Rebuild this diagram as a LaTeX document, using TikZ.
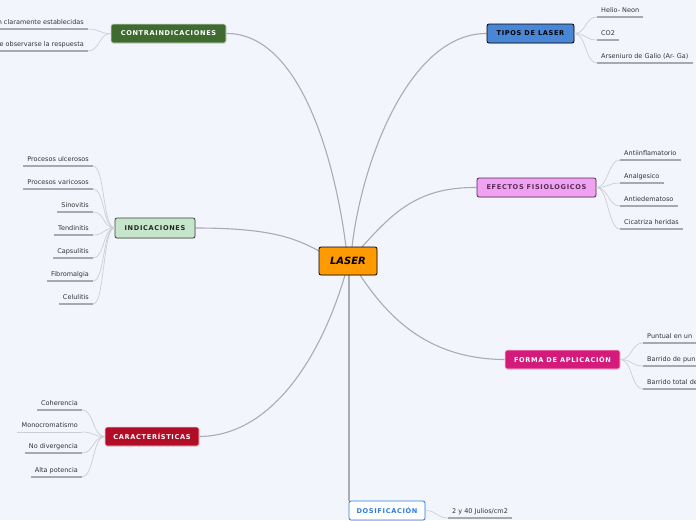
\documentclass[tikz,border=0pt]{standalone}
\usepackage{fontspec}
\setmainfont{DejaVu Sans}
\newfontfamily\spacedbold[LetterSpace=10]{DejaVu Sans}
\usetikzlibrary{shadows}
\pgfdeclarelayer{bg}
\pgfsetlayers{bg,main}
\definecolor{bgc}{HTML}{F3F5FD}
\definecolor{linec}{HTML}{ABABB3}
\definecolor{leafline}{HTML}{CDCDD3}
\definecolor{ulc}{HTML}{A9A9AD}
\definecolor{cgreen}{HTML}{3F6B30}
\definecolor{cblue}{HTML}{4A86D6}
\definecolor{cpink}{HTML}{EEA2F0}
\definecolor{cpinkb}{HTML}{5A2A5A}
\definecolor{cmint}{HTML}{C6E6CB}
\definecolor{cred}{HTML}{B20D26}
\definecolor{cmag}{HTML}{D41B7B}
\definecolor{cdblue}{HTML}{2A7EE0}
\definecolor{corange}{HTML}{FF9A00}
\tikzset{
  mainbox/.style={rounded corners=2pt, minimum height=19pt, inner sep=0pt,
    font=\spacedbold\fontsize{6.6}{7}\selectfont\bfseries, line width=0.8pt,
    drop shadow={opacity=0.18, shadow xshift=0.6pt, shadow yshift=-0.8pt}},
  leaf/.style={font=\fontsize{6.5}{7.5}\selectfont, text=black!80, inner xsep=4pt,
    inner ysep=3.2pt, text height=4.9pt, text depth=1.4pt},
  uline/.style={line width=2.1pt, ulc},
  conn/.style={line width=1.1pt, linec},
  lconn/.style={line width=0.7pt, leafline},
}
\begin{document}
\begin{tikzpicture}[x=1pt,y=-1pt]
\clip (0,0) rectangle (696,520);
\begin{pgfonlayer}{bg}
\fill[bgc] (0,0) rectangle (696,520);
\end{pgfonlayer}

% nodes
\node[mainbox, draw=black, fill=corange, minimum width=58pt, minimum height=28pt,
  font=\fontsize{10}{11}\selectfont\bfseries\itshape] (laser) at (348,261) {LASER};
\node[mainbox, draw=white!80!cgreen, fill=cgreen, text=white, minimum width=115pt] (contra) at (168.5,33.5) {CONTRAINDICACIONES};
\node[mainbox, draw=black, fill=cblue, text=black, minimum width=87pt] (tipos) at (530.5,33.5) {TIPOS DE LASER};
\node[mainbox, draw=cpinkb, fill=cpink, text=cpinkb, minimum width=119pt] (efectos) at (536.5,187.5) {EFECTOS FISIOLOGICOS};
\node[mainbox, draw=black!75, fill=cmint, text=black!85, minimum width=80pt, minimum height=20pt] (indic) at (155,228) {INDICACIONES};
\node[mainbox, draw=white!80!cred, fill=cred, text=white, minimum width=94pt] (caract) at (152,436.5) {CARACTERÍSTICAS};
\node[mainbox, draw=white!80!cmag, fill=cmag, text=white, minimum width=115pt] (forma) at (562.5,359.5) {FORMA DE APLICACIÓN};
\node[mainbox, draw=cdblue, fill=white, text=cdblue, minimum width=76pt] (dosif) at (387,510.5) {DOSIFICACIÓN};

\coordinate (lt) at (346,247);
\coordinate (lt2) at (352,247);
\coordinate (lt3) at (362,247);
\coordinate (lb) at (345,275);
\coordinate (lb2) at (360,275);
\coordinate (lbc) at (349,275);
\coordinate (ll) at (319,251);

% main connectors
\begin{pgfonlayer}{bg}
\draw[conn] (contra.east) .. controls (300,33) and (335,160) .. (lt);
\draw[conn] (tipos.west) .. controls (410,33) and (362,160) .. (lt2);
\draw[conn] (efectos.west) .. controls (420,187) and (395,210) .. (lt3);
\draw[conn] (indic.east) .. controls (270,228) and (295,238) .. (ll);
\draw[conn] (caract.east) .. controls (270,436) and (320,360) .. (lb);
\draw[conn] (forma.west) .. controls (430,359) and (390,320) .. (lb2);
\draw[conn] (dosif.north -| lbc) -- (lbc);
\end{pgfonlayer}

% CONTRAINDICACIONES children
\node[leaf, anchor=south east] (c1) at (88,29) {n claramente establecidas};
\node[leaf, anchor=south east] (c2) at (88,51) {e observarse la respuesta};
\foreach \n in {c1,c2} {
  \draw[uline] (\n.south east) -- ++(-100,0);
  \draw[lconn] (contra.west) .. controls +(-12,0) and +(12,0) .. (\n.south east);
}

% TIPOS children
\node[leaf, anchor=south west] (t1) at (597,17) {Helio- Neon};
\node[leaf, anchor=south west] (t2) at (597,40) {CO2};
\node[leaf, anchor=south west] (t3) at (597,63) {Arseniuro de Galio (Ar- Ga)};
\foreach \n in {t1,t2,t3} {
  \draw[uline] (\n.south west) -- (\n.south east);
  \draw[lconn] (tipos.east) .. controls +(12,0) and +(-12,0) .. (\n.south west);
}

% EFECTOS children
\node[leaf, anchor=south west] (e1) at (620,160) {Antiinflamatorio};
\node[leaf, anchor=south west] (e2) at (620,183) {Analgesico};
\node[leaf, anchor=south west] (e3) at (620,206) {Antiedematoso};
\node[leaf, anchor=south west] (e4) at (620,229) {Cicatriza heridas};
\foreach \n in {e1,e2,e3,e4} {
  \draw[uline] (\n.south west) -- (\n.south east);
  \draw[lconn] (efectos.east) .. controls +(12,0) and +(-12,0) .. (\n.south west);
}

% INDICACIONES children
\node[leaf, anchor=south east] (i1) at (93,166) {Procesos ulcerosos};
\node[leaf, anchor=south east] (i2) at (93,189) {Procesos varicosos};
\node[leaf, anchor=south east] (i3) at (93,212) {Sinovitis};
\node[leaf, anchor=south east] (i4) at (93,235) {Tendinitis};
\node[leaf, anchor=south east] (i5) at (93,258) {Capsulitis};
\node[leaf, anchor=south east] (i6) at (93,281) {Fibromalgia};
\node[leaf, anchor=south east] (i7) at (93,304) {Celulitis};
\foreach \n in {i1,i2,i3,i4,i5,i6,i7} {
  \draw[uline] (\n.south west) -- (\n.south east);
  \draw[lconn] (indic.west) .. controls +(-12,0) and +(12,0) .. (\n.south east);
}

% CARACTERISTICAS children
\node[leaf, anchor=south east] (k1) at (82,410) {Coherencia};
\node[leaf, anchor=south east] (k2) at (82,432) {Monocromatismo};
\node[leaf, anchor=south east] (k3) at (82,453) {No divergencia};
\node[leaf, anchor=south east] (k4) at (82,477) {Alta potencia};
\foreach \n in {k1,k3,k4} {
  \draw[uline] (\n.south west) -- (\n.south east);
}
\draw[line width=0.7pt, leafline] (k2.south west) -- (k2.south east);
\foreach \n in {k1,k2,k3,k4} {
  \draw[lconn] (caract.west) .. controls +(-12,0) and +(12,0) .. (\n.south east);
}

% FORMA children
\node[leaf, anchor=south west] (f1) at (643,343) {Puntual en un};
\node[leaf, anchor=south west] (f2) at (643,366) {Barrido de pun};
\node[leaf, anchor=south west] (f3) at (643,389) {Barrido total de};
\foreach \n in {f1,f2,f3} {
  \draw[uline] (\n.south west) -- ++(80,0);
  \draw[lconn] (forma.east) .. controls +(12,0) and +(-12,0) .. (\n.south west);
}

% DOSIFICACION child
\node[leaf, anchor=south west] (d1) at (448,518) {2 y 40 Julios/cm2};
\draw[uline] (d1.south west) -- (d1.south east);
\draw[lconn] (dosif.east) .. controls +(12,0) and +(-12,0) .. (d1.south west);
\end{tikzpicture}
\end{document}
